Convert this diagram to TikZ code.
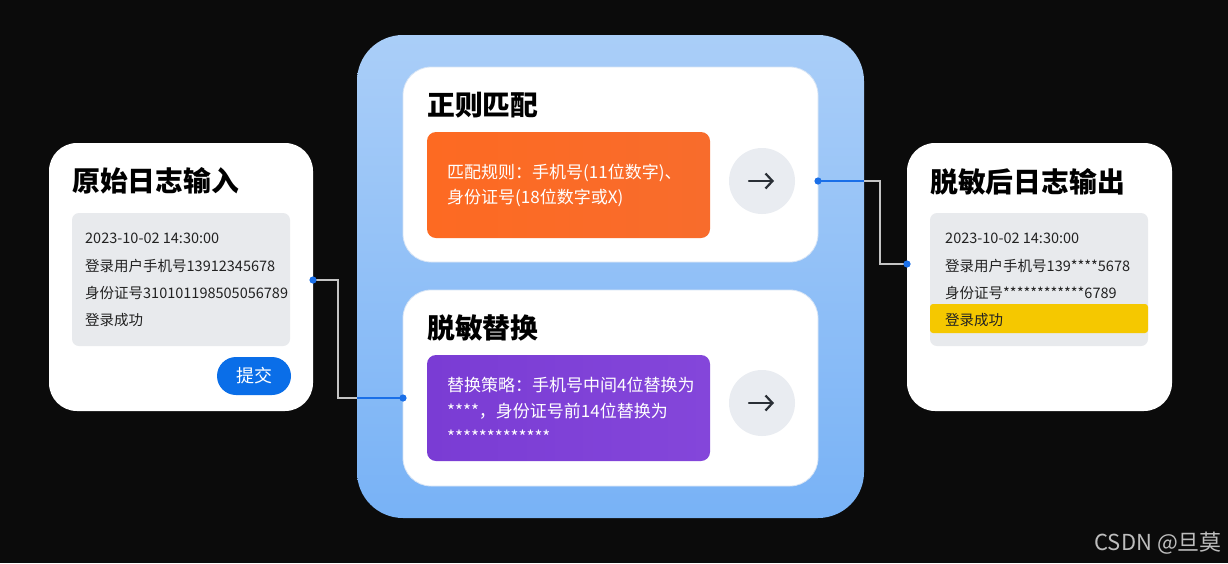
\documentclass[tikz,border=0pt]{standalone}
\usepackage{fontspec}
\setmainfont{Noto Sans CJK SC}
\usetikzlibrary{arrows.meta}
\definecolor{bgc}{HTML}{0B0B0B}
\definecolor{panelTop}{HTML}{AACEF8}
\definecolor{panelBot}{HTML}{78B2F6}
\definecolor{logGray}{HTML}{E8EAED}
\definecolor{btnBlue}{HTML}{0A6EE8}
\definecolor{hlYellow}{HTML}{F5C800}
\definecolor{orangeA}{HTML}{FD6A22}
\definecolor{orangeB}{HTML}{F86C2C}
\definecolor{purpleA}{HTML}{7A3CD4}
\definecolor{purpleB}{HTML}{8446DA}
\definecolor{circGray}{HTML}{E9ECF1}
\definecolor{arrowDark}{HTML}{2A2F36}
\definecolor{lineGray}{HTML}{C4C4C4}
\definecolor{lineBlue}{HTML}{1A6FE8}
\definecolor{txtDark}{HTML}{222222}
\definecolor{wmGray}{HTML}{BDBDBD}
\definecolor{cardEdge}{HTML}{D6E4F5}
\begin{document}
\begin{tikzpicture}[x=1pt,y=-1pt,
  box/.style={inner sep=0pt, outer sep=0pt, draw=none},
  card/.style={box, fill=white, rounded corners=28pt},
  innercard/.style={card, draw=cardEdge, line width=0.8pt},
  loggray/.style={box, fill=logGray, rounded corners=7pt},
  titletxt/.style={inner sep=0pt, anchor=west, font=\fontsize{27.8}{32}\selectfont\bfseries, text=black},
  logtxt/.style={inner sep=0pt, anchor=west, font=\fontsize{14.5}{18}\selectfont, text=txtDark},
  cardtxt/.style={inner sep=0pt, anchor=west, font=\fontsize{17}{20}\selectfont, text=white},
  circbtn/.style={box, circle, fill=circGray, minimum size=66pt},
  arrowline/.style={draw=arrowDark, line width=2.2pt, line cap=round, -{Straight Barb[length=7pt, width=15pt, line width=2.2pt]}},
  gline/.style={draw=lineGray, line width=1.3pt},
  bline/.style={draw=lineBlue, line width=1.3pt},
  dotstyle/.style={fill=lineBlue}
]
% background / bounding box
\fill[bgc] (0,0) rectangle (1228,563);
\useasboundingbox (0,0) rectangle (1228,563);

% ---------- central panel ----------
\node[box, rounded corners=46pt, top color=panelTop, bottom color=panelBot,
      minimum width=507pt, minimum height=483pt] (panel) at (610.5,276.5) {};

% top card
\node[innercard, minimum width=415pt, minimum height=195pt] (tcard) at (610.5,164.5) {};
\node[titletxt] (ttitle) at (427,105) {正则匹配};
\node[box, rounded corners=9pt, left color=orangeA, right color=orangeB,
      minimum width=283pt, minimum height=106pt] (obox) at (568.5,185) {};
\node[cardtxt] (ot1) at (447,173) {匹配规则：手机号(11位数字)、};
\node[cardtxt] (ot2) at (447,198) {身份证号(18位数字或X)};
\node[circbtn] (tcirc) at (762,181) {};
\draw[arrowline] ([xshift=-13pt]tcirc.center) -- ([xshift=12pt]tcirc.center);

% bottom card
\node[innercard, minimum width=415pt, minimum height=196pt] (bcard) at (610.5,388) {};
\node[titletxt] (btitle) at (427,328) {脱敏替换};
\node[box, rounded corners=9pt, left color=purpleA, right color=purpleB,
      minimum width=283pt, minimum height=106pt] (pbox) at (568.5,408) {};
\node[cardtxt] (pt1) at (447,385) {替换策略：手机号中间4位替换为};
\node[cardtxt] (pt2) at (447,411) {****，身份证号前14位替换为};
\node[cardtxt] (pt3) at (447,437) {*************};
\node[circbtn] (bcirc) at (762,403) {};
\draw[arrowline] ([xshift=-13pt]bcirc.center) -- ([xshift=12pt]bcirc.center);

% ---------- left card ----------
\node[card, minimum width=264pt, minimum height=268pt] (lcard) at (181,277) {};
\node[titletxt] (ltitle) at (72,181) {原始日志输入};
\node[loggray, minimum width=218pt, minimum height=133pt] (lgray) at (181,279.5) {};
\node[logtxt] (l1) at (85,238) {2023-10-02 14:30:00};
\node[logtxt] (l2) at (85,266) {登录用户手机号13912345678};
\node[logtxt] (l3) at (85,293) {身份证号310101198505056789};
\node[logtxt] (l4) at (85,320) {登录成功};
\node[box, fill=btnBlue, rounded corners=19pt, minimum width=74pt, minimum height=38pt,
      text=white, font=\fontsize{18}{20}\selectfont] (lbtn) at (254,376) {提交};

% ---------- right card ----------
\node[card, minimum width=265pt, minimum height=268pt] (rcard) at (1039.5,277) {};
\node[titletxt] (rtitle) at (930,182) {脱敏后日志输出};
\node[loggray, minimum width=218pt, minimum height=133pt] (rgray) at (1039,279.5) {};
\node[box, fill=hlYellow, rounded corners=3pt, minimum width=218pt, minimum height=29pt] (rhl) at (1039,318.5) {};
\node[logtxt] (r1) at (945,238) {2023-10-02 14:30:00};
\node[logtxt] (r2) at (945,266) {登录用户手机号139****5678};
\node[logtxt] (r3) at (945,293) {身份证号************6789};
\node[logtxt] (r4) at (945,320) {登录成功};

% ---------- connectors ----------
\coordinate (ldot) at (313,280);
\coordinate (lk1) at (338,280);
\coordinate (lk2) at (338,398);
\coordinate (lk3) at (357,398);
\coordinate (bdot) at (403,398);
\draw[gline] (ldot) -- (lk1) -- (lk2) -- (lk3);
\draw[bline] (lk3) -- (bdot);
\fill[dotstyle] (ldot) circle (3.6pt);
\fill[dotstyle] (bdot) circle (3.6pt);

\coordinate (tdot) at (818,181);
\coordinate (rk1) at (864,181);
\coordinate (rk2) at (880,181);
\coordinate (rk3) at (880,264);
\coordinate (rdot) at (907,264);
\draw[bline] (tdot) -- (rk1);
\draw[gline] (rk1) -- (rk2) -- (rk3) -- (rdot);
\fill[dotstyle] (tdot) circle (3.6pt);
\fill[dotstyle] (rdot) circle (3.6pt);

% watermark
\node[inner sep=0pt, anchor=east, text=wmGray, font=\fontsize{22}{24}\selectfont] (wm) at (1222,543) {CSDN @旦莫};
\end{tikzpicture}
\end{document}
